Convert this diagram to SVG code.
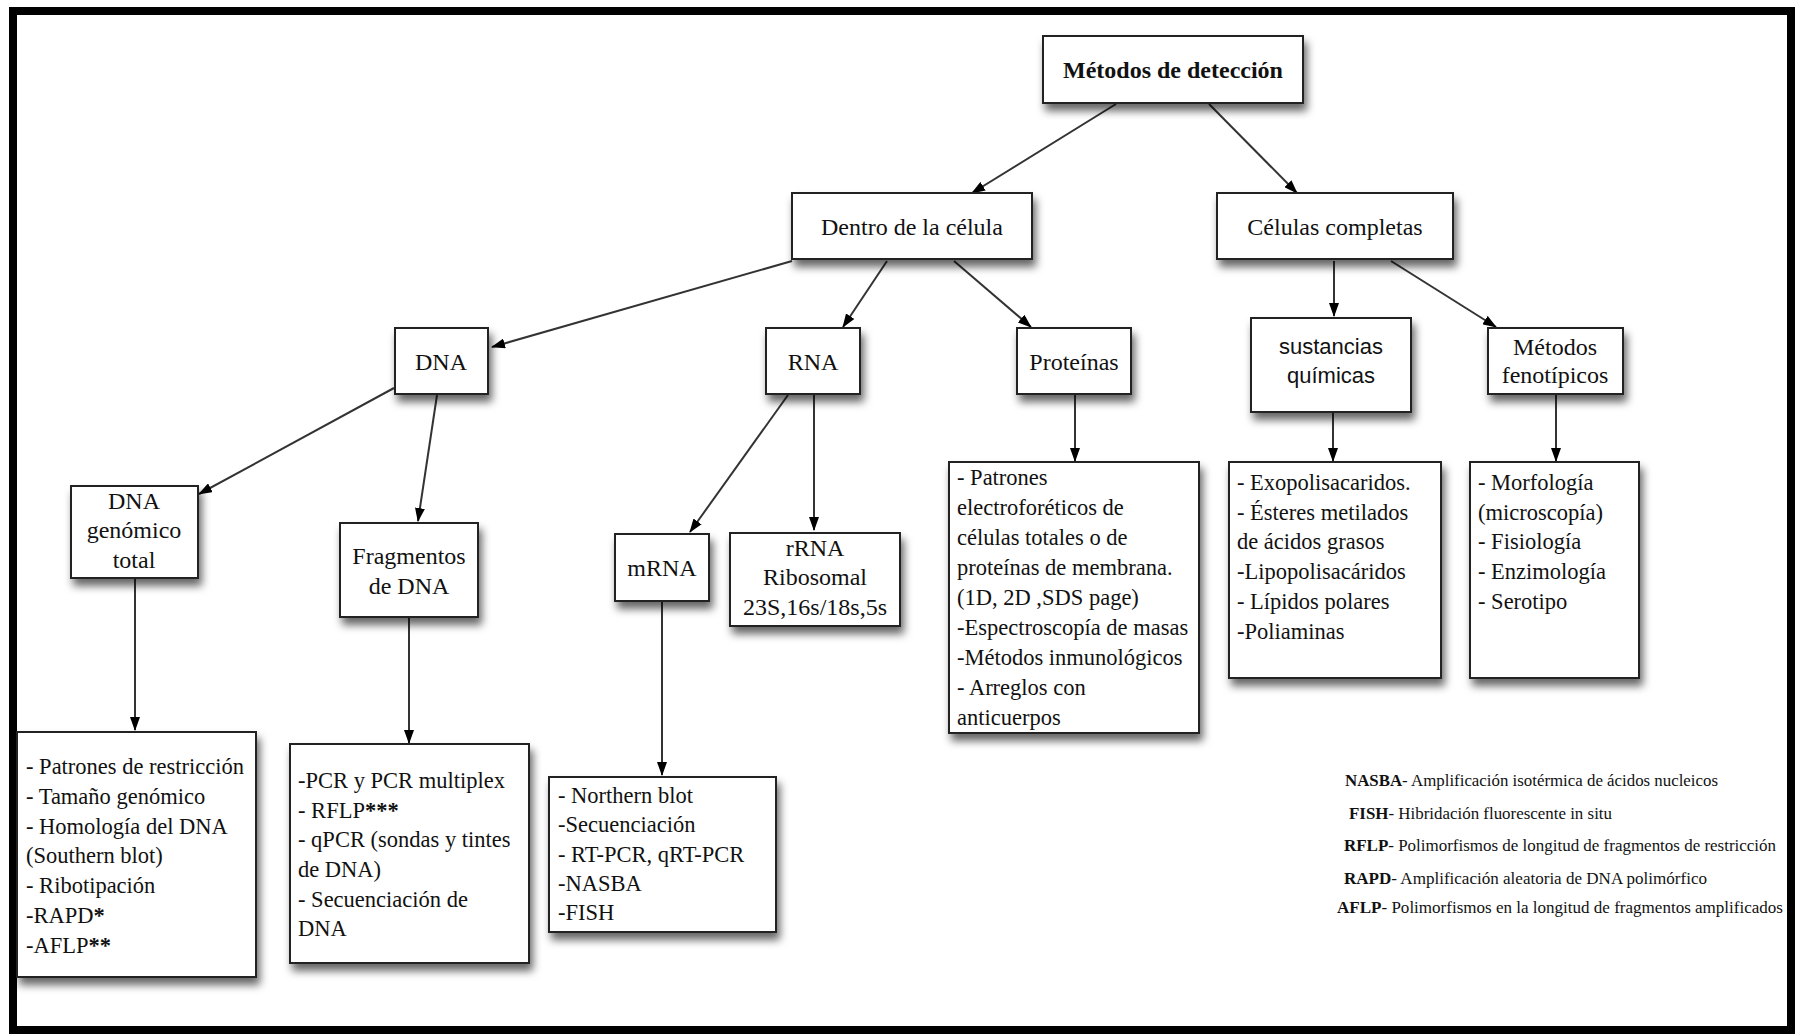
<svg xmlns="http://www.w3.org/2000/svg" width="1798" height="1034" viewBox="0 0 1798 1034">
<defs>
<filter id="sh" x="-20%" y="-20%" width="150%" height="160%">
<feDropShadow dx="3" dy="7" stdDeviation="4" flood-color="#000" flood-opacity="0.6"/>
</filter>
<marker id="ah" viewBox="0 0 14 10" refX="13" refY="5" markerWidth="14" markerHeight="10" markerUnits="userSpaceOnUse" orient="auto">
<path d="M0,0 L14,5 L0,10 Z" fill="#000"/>
</marker>
<style>
.box{fill:#fff;stroke:#222;stroke-width:2;filter:url(#sh)}
.t{font-family:"Liberation Serif","Times New Roman",serif;font-size:24px;fill:#111;text-anchor:middle}
.s{font-family:"Liberation Sans",Arial,sans-serif;font-size:22px;fill:#111;text-anchor:middle}
.l{font-family:"Liberation Serif","Times New Roman",serif;font-size:22.5px;fill:#111}
.g{font-family:"Liberation Serif","Times New Roman",serif;font-size:16.5px;fill:#111}
.b{font-weight:bold}
.c line{stroke:#333;stroke-width:2;marker-end:url(#ah)}
</style>
</defs>
<rect x="0" y="0" width="1798" height="1034" fill="#fff"/>
<rect x="13" y="11" width="1778" height="1019" fill="none" stroke="#000" stroke-width="8"/>

<g id="connectors" class="c">
<line x1="1116" y1="104" x2="972" y2="193"/>
<line x1="1209" y1="104" x2="1297" y2="193"/>
<line x1="792" y1="261" x2="492" y2="347"/>
<line x1="887" y1="261" x2="843" y2="327"/>
<line x1="954" y1="261" x2="1031" y2="327"/>
<line x1="1334" y1="261" x2="1334" y2="316"/>
<line x1="1391" y1="261" x2="1496" y2="327"/>
<line x1="394" y1="388" x2="199" y2="494"/>
<line x1="437" y1="395" x2="418" y2="521"/>
<line x1="788" y1="395" x2="690" y2="532"/>
<line x1="814" y1="395" x2="814" y2="530"/>
<line x1="135" y1="578" x2="135" y2="730"/>
<line x1="409" y1="617" x2="409" y2="743"/>
<line x1="662" y1="601" x2="662" y2="775"/>
<line x1="1075" y1="394" x2="1075" y2="461"/>
<line x1="1333" y1="412" x2="1333" y2="461"/>
<line x1="1556" y1="394" x2="1556" y2="461"/>
</g>

<g id="metodos">
<rect class="box" x="1043" y="36" width="260" height="67"/>
<text class="t b" x="1173" y="78">Métodos de detección</text>
</g>
<g id="dentro">
<rect class="box" x="792" y="193" width="240" height="66"/>
<text class="t" x="912" y="235">Dentro de la célula</text>
</g>
<g id="celulas">
<rect class="box" x="1217" y="193" width="236" height="66"/>
<text class="t" x="1335" y="235">Células completas</text>
</g>
<g id="dna">
<rect class="box" x="395" y="328" width="93" height="66"/>
<text class="t" x="441" y="370">DNA</text>
</g>
<g id="rna">
<rect class="box" x="766" y="328" width="94" height="66"/>
<text class="t" x="813" y="370">RNA</text>
</g>
<g id="proteinas">
<rect class="box" x="1017" y="328" width="114" height="66"/>
<text class="t" x="1074" y="370">Proteínas</text>
</g>
<g id="sustancias">
<rect class="box" x="1251" y="318" width="160" height="94"/>
<text class="s" x="1331" y="354">sustancias</text>
<text class="s" x="1331" y="383">químicas</text>
</g>
<g id="fenotipicos">
<rect class="box" x="1488" y="328" width="135" height="66"/>
<text class="t" x="1555" y="355">Métodos</text>
<text class="t" x="1555" y="383">fenotípicos</text>
</g>
<g id="genomico">
<rect class="box" x="71" y="486" width="127" height="92"/>
<text class="t" x="134" y="509">DNA</text>
<text class="t" x="134" y="538">genómico</text>
<text class="t" x="134" y="568">total</text>
</g>
<g id="fragmentos">
<rect class="box" x="340" y="523" width="138" height="94"/>
<text class="t" x="409" y="564">Fragmentos</text>
<text class="t" x="409" y="594">de DNA</text>
</g>
<g id="mrna">
<rect class="box" x="615" y="534" width="94" height="67"/>
<text class="t" x="662" y="576">mRNA</text>
</g>
<g id="rrna">
<rect class="box" x="730" y="533" width="170" height="93"/>
<text class="t" x="815" y="556">rRNA</text>
<text class="t" x="815" y="585">Ribosomal</text>
<text class="t" x="815" y="615" font-size="23">23S,16s/18s,5s</text>
</g>
<g id="lista-genomico">
<rect class="box" x="17" y="732" width="239" height="245"/>
<text class="l" x="26" y="774">- Patrones de restricción</text>
<text class="l" x="26" y="804">- Tamaño genómico</text>
<text class="l" x="26" y="834">- Homología del DNA</text>
<text class="l" x="26" y="863">(Southern blot)</text>
<text class="l" x="26" y="893">- Ribotipación</text>
<text class="l" x="26" y="923">-RAPD<tspan class="b">*</tspan></text>
<text class="l" x="26" y="953">-AFLP<tspan class="b">**</tspan></text>
</g>
<g id="lista-fragmentos">
<rect class="box" x="290" y="744" width="239" height="219"/>
<text class="l" x="298" y="788">-PCR y PCR multiplex</text>
<text class="l" x="298" y="818">- RFLP<tspan class="b">***</tspan></text>
<text class="l" x="298" y="847">- qPCR (sondas y tintes</text>
<text class="l" x="298" y="877">de DNA)</text>
<text class="l" x="298" y="907">- Secuenciación de</text>
<text class="l" x="298" y="936">DNA</text>
</g>
<g id="lista-mrna">
<rect class="box" x="549" y="777" width="227" height="155"/>
<text class="l" x="558" y="803">- Northern blot</text>
<text class="l" x="558" y="832">-Secuenciación</text>
<text class="l" x="558" y="862">- RT-PCR, qRT-PCR</text>
<text class="l" x="558" y="891">-NASBA</text>
<text class="l" x="558" y="920">-FISH</text>
</g>
<g id="lista-proteinas">
<rect class="box" x="949" y="462" width="250" height="271"/>
<text class="l" x="957" y="485">- Patrones</text>
<text class="l" x="957" y="515">electroforéticos de</text>
<text class="l" x="957" y="545">células totales o de</text>
<text class="l" x="957" y="575">proteínas de membrana.</text>
<text class="l" x="957" y="605">(1D, 2D ,SDS page)</text>
<text class="l" x="957" y="635">-Espectroscopía de masas</text>
<text class="l" x="957" y="665">-Métodos inmunológicos</text>
<text class="l" x="957" y="695">- Arreglos con</text>
<text class="l" x="957" y="725">anticuerpos</text>
</g>
<g id="lista-sustancias">
<rect class="box" x="1229" y="462" width="212" height="216"/>
<text class="l" x="1237" y="490">- Exopolisacaridos.</text>
<text class="l" x="1237" y="520">- Ésteres metilados</text>
<text class="l" x="1237" y="549">de ácidos grasos</text>
<text class="l" x="1237" y="579">-Lipopolisacáridos</text>
<text class="l" x="1237" y="609">- Lípidos polares</text>
<text class="l" x="1237" y="639">-Poliaminas</text>
</g>
<g id="lista-fenotipicos">
<rect class="box" x="1470" y="462" width="169" height="216"/>
<text class="l" x="1478" y="490">- Morfología</text>
<text class="l" x="1478" y="520">(microscopía)</text>
<text class="l" x="1478" y="549">- Fisiología</text>
<text class="l" x="1478" y="579">- Enzimología</text>
<text class="l" x="1478" y="609">- Serotipo</text>
</g>
<g id="leyenda">
<text class="g" x="1345" y="786" textLength="373" lengthAdjust="spacingAndGlyphs"><tspan class="b">NASBA</tspan>- Amplificación isotérmica de ácidos nucleicos</text>
<text class="g" x="1349" y="819" textLength="263" lengthAdjust="spacingAndGlyphs"><tspan class="b">FISH</tspan>- Hibridación fluorescente in situ</text>
<text class="g" x="1344" y="851" textLength="432" lengthAdjust="spacingAndGlyphs"><tspan class="b">RFLP</tspan>- Polimorfismos de longitud de fragmentos de restricción</text>
<text class="g" x="1344" y="884" textLength="363" lengthAdjust="spacingAndGlyphs"><tspan class="b">RAPD</tspan>- Amplificación aleatoria de DNA polimórfico</text>
<text class="g" x="1337" y="913" textLength="446" lengthAdjust="spacingAndGlyphs"><tspan class="b">AFLP</tspan>- Polimorfismos en la longitud de fragmentos amplificados</text>
</g>
</svg>
